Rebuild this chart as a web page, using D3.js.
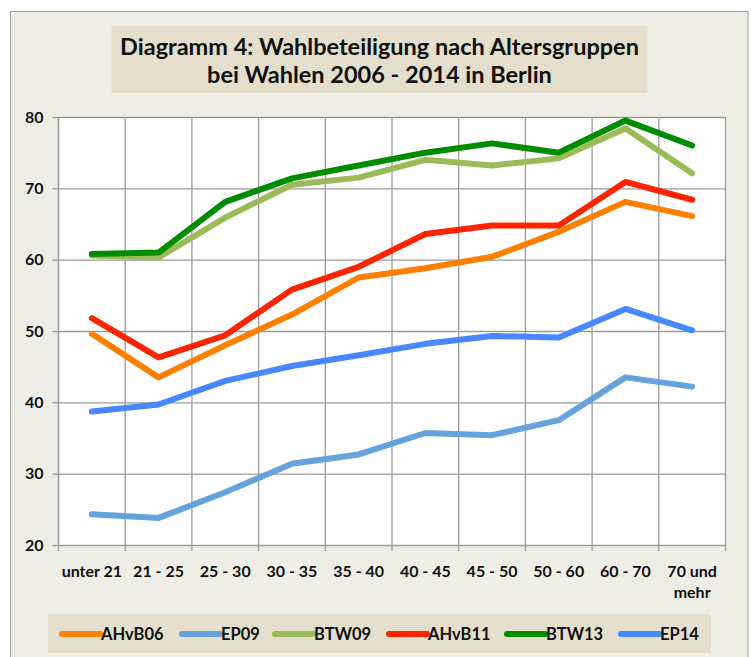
<!DOCTYPE html>
<html>
<head>
<meta charset="utf-8">
<script src="https://cdn.jsdelivr.net/npm/d3@7"></script>
<style>
  body { margin: 0; background: #fff; }
  text { font-family: Lato, "Open Sans", sans-serif; font-weight: bold; fill: #111; }
</style>
</head>
<body>
<svg id="chart" width="751" height="657"></svg>
<script>
// age groups on the x axis
const groups = ['unter 21', '21 - 25', '25 - 30', '30 - 35', '35 - 40', '40 - 45', '45 - 50', '50 - 60', '60 - 70', '70 und mehr'];
const yTicks = [20, 30, 40, 50, 60, 70, 80];

// turnout in % per election
const AHvB06 = [49.6, 43.5, 48.0, 52.3, 57.5, 58.8, 60.4, 63.9, 68.1, 66.1];
const EP09   = [24.3, 23.8, 27.4, 31.4, 32.7, 35.7, 35.4, 37.5, 43.5, 42.2];
const BTW09  = [60.6, 60.3, 65.9, 70.5, 71.5, 74.0, 73.2, 74.2, 78.4, 72.1];
const AHvB11 = [51.8, 46.3, 49.4, 55.8, 59.0, 63.6, 64.8, 64.8, 70.9, 68.4];
const BTW13  = [60.8, 61.0, 68.1, 71.4, 73.2, 75.0, 76.3, 75.0, 79.5, 76.0];
const EP14   = [38.7, 39.7, 43.0, 45.1, 46.6, 48.2, 49.3, 49.1, 53.1, 50.1];

const seriesNames = ['AHvB06', 'EP09', 'BTW09', 'AHvB11', 'BTW13', 'EP14'];
const seriesValues = [AHvB06, EP09, BTW09, AHvB11, BTW13, EP14];
const colors = ['#ff7f00', '#66a3dc', '#9bbb59', '#ff2400', '#008c00', '#4787ff'];

const svg = d3.select('#chart');
const margin = { top: 117, left: 58.5, right: 25.5, bottom: 112 };
const width = 751 - margin.left - margin.right;
const height = 657 - margin.top - margin.bottom;

// outer frame
svg.append('rect')
    .attr('x', 10.5).attr('y', 11.5).attr('width', 737.5).attr('height', 660)
    .attr('fill', '#efeee6').attr('stroke', '#a0a0a0');

// title box
svg.append('rect')
    .attr('x', 111.5).attr('y', 26).attr('width', 536).attr('height', 67)
    .attr('fill', '#e3dfcc');
const title = svg.append('text')
    .attr('x', 379.5).attr('text-anchor', 'middle')
    .style('font-size', '23.5px');
title.append('tspan').attr('x', 379.5).attr('y', 55).text('Diagramm 4: Wahlbeteiligung nach Altersgruppen');
title.append('tspan').attr('x', 379.5).attr('y', 83).text('bei Wahlen 2006 - 2014 in Berlin');

const g = svg.append('g').attr('transform', `translate(${margin.left},${margin.top})`);

const x = d3.scaleBand().domain(groups).range([0, width]);
const y = d3.scaleLinear().domain([20, 80]).range([height, 0]);

g.append('rect').attr('width', width).attr('height', height).attr('fill', '#fff');

// vertical grid at category boundaries
const bounds = groups.map(d => x(d)).concat([width]);
g.selectAll('.vgrid').data(bounds).join('line')
    .attr('class', 'vgrid')
    .attr('x1', d => d).attr('x2', d => d)
    .attr('y1', 0).attr('y2', height + 6)
    .attr('stroke', '#9b9b9b').attr('stroke-width', 1.3);

// horizontal grid + y axis
const yAxis = g.append('g')
    .call(d3.axisLeft(y).tickValues(yTicks).tickSize(6).tickPadding(9));
yAxis.select('.domain').remove();
yAxis.selectAll('.tick line').clone()
    .attr('x2', width);
yAxis.selectAll('.tick line').attr('stroke', '#9b9b9b').attr('stroke-width', 1.3);
yAxis.selectAll('.tick text').style('font-size', '16px').attr('fill', '#111');
g.append('line').attr('x1', 0).attr('x2', 0).attr('y1', 0).attr('y2', height)
    .attr('stroke', '#9b9b9b').attr('stroke-width', 1.3);

// x labels
const xl = g.selectAll('.xlab').data(groups).join('text')
    .attr('class', 'xlab')
    .attr('text-anchor', 'middle')
    .attr('transform', d => `translate(${x(d) + x.bandwidth() / 2},${height + 32})`)
    .style('font-size', '16px');
xl.each(function(d) {
    const parts = d === '70 und mehr' ? ['70 und', 'mehr'] : [d];
    d3.select(this).selectAll('tspan').data(parts).join('tspan')
        .attr('x', 0).attr('dy', (p, i) => i === 0 ? 0 : 21)
        .text(p => p);
});

// lines
const line = d3.line()
    .x((d, i) => x(groups[i]) + x.bandwidth() / 2)
    .y(d => y(d));
g.selectAll('.series').data(seriesValues).join('path')
    .attr('class', 'series')
    .attr('d', line)
    .attr('fill', 'none')
    .attr('stroke', (d, i) => colors[i])
    .attr('stroke-width', 6)
    .attr('stroke-linecap', 'round')
    .attr('stroke-linejoin', 'round');

// legend
svg.append('rect')
    .attr('x', 48).attr('y', 614).attr('width', 663).attr('height', 39)
    .attr('fill', '#e3dfcc');
const legendX = [62, 182, 275, 389, 507, 621];
const leg = svg.selectAll('.leg').data(seriesNames).join('g')
    .attr('class', 'leg')
    .attr('transform', (d, i) => `translate(${legendX[i]},634)`);
leg.append('line')
    .attr('x1', 0).attr('x2', 38)
    .attr('stroke', (d, i) => colors[i])
    .attr('stroke-width', 6).attr('stroke-linecap', 'round');
leg.append('text')
    .attr('x', 39).attr('dy', '0.35em')
    .style('font-size', '16.5px')
    .text(d => d);
</script>
</body>
</html>
